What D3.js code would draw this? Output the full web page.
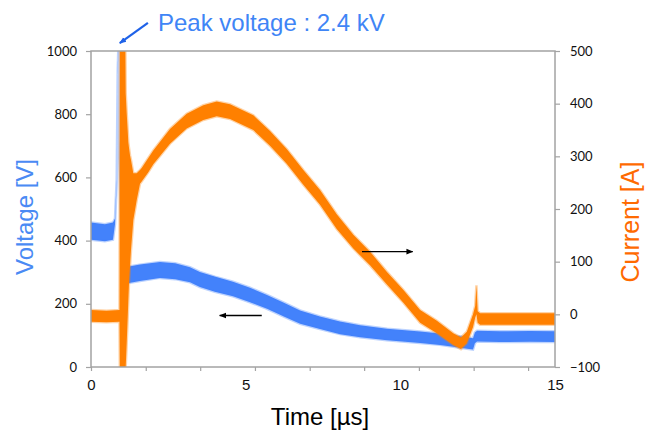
<!DOCTYPE html>
<html>
<head>
<meta charset="utf-8">
<script src="https://cdn.jsdelivr.net/npm/d3@7"></script>
<style>
  body { margin: 0; background: #fff; }
  .tick text { font-family: Lato, "Open Sans", sans-serif; font-size: 13px; fill: #111; }
  .xlab .tick text { font-family: "Liberation Sans", Arial, sans-serif; font-size: 15px; }
</style>
</head>
<body>
<div id="graph"></div>
<script>
// values (band = noise envelope)
var voltTime = [0, 0.45, 0.71, 0.776, 0.831, 0.863, 0.883, 0.89, 0.91, 1.0, 1.23, 1.58, 2.23, 2.72, 3.2, 3.52, 4.0, 4.59, 5.14, 5.69, 6.27, 6.76, 7.4, 8.05, 8.7, 9.57, 10.64, 11.28, 11.77, 12.16, 12.35, 12.41, 12.48, 13.22, 14.19, 15];
var voltLow  = [403, 398, 403, 452, 585, 925, 1000, 2400, 700, 300, 266, 272, 282, 278, 268, 253, 238, 224, 205, 184, 158, 137, 120, 104, 94, 85, 76, 70, 63, 58, 55, 75, 81, 79, 80, 79];
var voltHigh = [457, 452, 457, 470, 595, 935, 1010, 2400, 720, 340, 318, 324, 332, 328, 316, 301, 286, 270, 251, 228, 202, 179, 160, 144, 132, 121, 112, 106, 99, 94, 91, 109, 115, 113, 114, 113];

var curTime = [0, 0.5, 0.921, 0.938, 1.099, 1.122, 1.154, 1.187, 1.206, 1.229, 1.261, 1.293, 1.368, 1.478, 1.584, 1.639, 1.853, 2.014, 2.554, 3.094, 3.631, 4.064, 4.494, 5.247, 5.787, 6.327, 6.864, 7.404, 7.944, 8.48, 9.02, 9.56, 10.1, 10.64, 11.18, 11.71, 11.96, 12.15, 12.35, 12.42, 12.46, 12.5, 12.58, 13.5, 15];
var curLow  = [-14, -15, -14, -150, -150, -100, -55, -5, 25, 60, 91, 122, 179, 217, 248, 252, 270, 285, 324, 353, 369, 376, 371, 350, 320, 286, 246, 208, 162, 125, 93, 57, 22, -16, -36, -58, -66, -55, -24, -6, 0, -16, -20, -20, -20];
var curHigh = [8, 7, 8, 600, 600, 420, 382, 348, 327, 316, 302, 293, 268, 268, 274, 278, 297, 311, 352, 381, 397, 404, 399, 378, 348, 314, 274, 236, 190, 151, 119, 81, 46, 8, -12, -36, -44, -33, 0, 16, 55, 6, 2, 2, 2];

var voltTicks = [0, 200, 400, 600, 800, 1000];
var curTicks = [-100, 0, 100, 200, 300, 400, 500];
var timeLabels = [0, 5, 10, 15];
var timeMinor = [0, 1.77, 3.53, 5.3, 7.07, 8.83, 10.6, 12.37, 14.13];

var width = 646, height = 431;
var plotLeft = 91, plotRight = 555, plotTop = 51, plotBottom = 367;
var blue = '#4382fb', orange = '#ff8000';

var svg = d3.select('#graph').append('svg')
    .attr('width', width)
    .attr('height', height);

var x = d3.scaleLinear().domain([0, 15]).range([plotLeft, plotRight]);
var yV = d3.scaleLinear().domain([0, 1000]).range([plotBottom, plotTop]);
var yI = d3.scaleLinear().domain([-100, 500]).range([plotBottom, plotTop]);

var defs = svg.append('defs');
defs.append('clipPath').attr('id', 'plot')
    .append('rect')
    .attr('x', plotLeft).attr('y', plotTop)
    .attr('width', plotRight - plotLeft).attr('height', plotBottom - plotTop);

var voltData = voltTime.map(function(t, i) { return {t: t, lo: voltLow[i], hi: voltHigh[i]}; });
var curData = curTime.map(function(t, i) { return {t: t, lo: curLow[i], hi: curHigh[i]}; });

var traces = svg.append('g').attr('clip-path', 'url(#plot)');

function band(yScale) {
    return d3.area()
        .x(function(d) { return x(d.t); })
        .y0(function(d) { return yScale(d.lo); })
        .y1(function(d) { return yScale(d.hi); });
}

// soft edge stroke stands in for the scope noise fringe
traces.append('path')
    .datum(voltData)
    .attr('d', band(yV))
    .attr('fill', blue)
    .attr('stroke', blue)
    .attr('stroke-opacity', 0.35)
    .attr('stroke-width', 2.5);

traces.append('path')
    .datum(curData)
    .attr('d', band(yI))
    .attr('fill', orange)
    .attr('stroke', orange)
    .attr('stroke-opacity', 0.35)
    .attr('stroke-width', 2.5);

// frame
svg.append('rect')
    .attr('x', plotLeft).attr('y', plotTop)
    .attr('width', plotRight - plotLeft).attr('height', plotBottom - plotTop)
    .attr('fill', 'none')
    .attr('stroke', '#a3a3a3')
    .attr('stroke-width', 1.5);

function styleAxis(g) {
    g.select('.domain').remove();
    g.selectAll('.tick line').attr('stroke', '#a3a3a3').attr('stroke-width', 1.2);
}

svg.append('g')
    .attr('transform', 'translate(' + plotLeft + ',0)')
    .call(d3.axisLeft(yV).tickValues(voltTicks).tickSize(5).tickPadding(9).tickFormat(d3.format('d')))
    .call(styleAxis);

svg.append('g')
    .attr('transform', 'translate(' + plotRight + ',0)')
    .call(d3.axisRight(yI).tickValues(curTicks).tickSize(5).tickPadding(10).tickFormat(d3.format('d')))
    .call(styleAxis);

svg.append('g')
    .attr('transform', 'translate(0,' + plotBottom + ')')
    .call(d3.axisBottom(x).tickValues(timeMinor).tickSize(4).tickFormat(''))
    .call(styleAxis);

svg.append('g')
    .attr('class', 'xlab')
    .attr('transform', 'translate(0,' + plotBottom + ')')
    .call(d3.axisBottom(x).tickValues(timeLabels).tickSize(0).tickPadding(12).tickFormat(d3.format('d')))
    .call(styleAxis);

// axis titles
svg.append('text')
    .attr('transform', 'translate(33,217) rotate(-90)')
    .attr('text-anchor', 'middle')
    .style('font-family', '"Liberation Sans", Arial, sans-serif')
    .style('font-size', '24px')
    .style('fill', '#4a8af4')
    .text('Voltage [V]');

svg.append('text')
    .attr('transform', 'translate(639,222) rotate(-90)')
    .attr('text-anchor', 'middle')
    .style('font-family', '"Liberation Sans", Arial, sans-serif')
    .style('font-size', '25px')
    .style('fill', '#ff6a00')
    .text('Current [A]');

svg.append('text')
    .attr('x', 320).attr('y', 425)
    .attr('text-anchor', 'middle')
    .style('font-family', '"Liberation Sans", Arial, sans-serif')
    .style('font-size', '24px')
    .style('fill', '#000')
    .text('Time [\u00b5s]');

// annotations
function marker(id, color) {
    defs.append('marker')
        .attr('id', id)
        .attr('viewBox', '0 0 10 10')
        .attr('refX', 9).attr('refY', 5)
        .attr('markerWidth', 7).attr('markerHeight', 7)
        .attr('markerUnits', 'userSpaceOnUse')
        .attr('orient', 'auto')
        .append('path')
        .attr('d', 'M0,1 L10,5 L0,9 Z')
        .attr('fill', color);
}
marker('headBlack', '#000');
marker('headBlue', '#1f62e8');

svg.append('text')
    .attr('x', 158).attr('y', 31)
    .style('font-family', '"Liberation Sans", Arial, sans-serif')
    .style('font-size', '24px')
    .style('fill', '#3f85f6')
    .text('Peak voltage : 2.4 kV');

svg.append('line')
    .attr('x1', x(1.84)).attr('y1', yV(1089))
    .attr('x2', x(0.93)).attr('y2', yV(1025))
    .attr('stroke', '#1f62e8')
    .attr('stroke-width', 2.2)
    .attr('marker-end', 'url(#headBlue)');

// current arrow -> right axis
svg.append('line')
    .attr('x1', x(8.76)).attr('y1', yI(119))
    .attr('x2', x(10.4)).attr('y2', yI(119))
    .attr('stroke', '#000')
    .attr('stroke-width', 1.3)
    .attr('marker-end', 'url(#headBlack)');

// voltage arrow -> left axis
svg.append('line')
    .attr('x1', x(5.52)).attr('y1', yV(163))
    .attr('x2', x(4.16)).attr('y2', yV(163))
    .attr('stroke', '#000')
    .attr('stroke-width', 1.3)
    .attr('marker-end', 'url(#headBlack)');
</script>
</body>
</html>
